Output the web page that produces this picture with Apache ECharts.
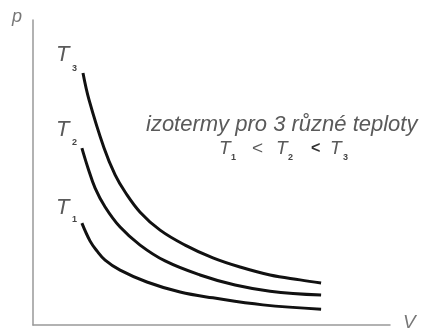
<!DOCTYPE html>
<html>
<head>
<meta charset="utf-8">
<title>izotermy</title>
<script src="https://cdn.jsdelivr.net/npm/echarts@6/dist/echarts.min.js"></script>
<style>
	html, body { margin: 0; padding: 0; background: #fff; }
	#chart { width: 433px; height: 332px; }
</style>
</head>
<body>
<div id="chart"></div>
<script>
// isotherms as [V, p]
const t3Points = [
	[14.0, 82.6], [15.7, 73.8], [19.9, 58.0], [23.0, 49.2], [25.8, 43.6], [30.0, 37.0], [35.6, 31.1],
	[42.6, 26.2], [50.4, 22.0], [58.0, 19.0], [66.4, 16.4], [74.8, 14.8], [80.7, 13.8]
]
const t2Points = [
	[13.7, 58.0], [15.4, 51.5], [17.4, 44.9], [20.2, 38.7], [24.4, 32.1], [30.0, 26.2], [37.0, 21.0],
	[46.8, 16.4], [56.6, 13.1], [66.4, 11.1], [80.7, 9.8]
]
const t1Points = [
	[13.7, 33.4], [16.0, 27.5], [17.9, 24.3], [20.2, 21.3], [24.4, 18.0], [31.9, 14.1], [41.2, 10.8],
	[50.4, 8.9], [64.4, 6.6], [80.7, 5.2]
]
const seriesNames = ['T3', 'T2', 'T1']
const curveLabels = ['3', '2', '1']

const chart = echarts.init(document.getElementById('chart'))

const textFont = 'Liberation Sans, Arial, sans-serif'
const gray = '#5a5a5a'

function txt(text, left, top, font, fill) {
	return {
		type: 'text', left: left, top: top,
		style: { text: text, font: font, fill: fill || gray }
	}
}

// T labels at the start of each curve
const labelTops = [44, 119, 197]
const subTops = [64, 138, 215]
const curveText = []
curveLabels.forEach((n, i) => {
	curveText.push(txt('T', 56, labelTops[i], 'italic 22px ' + textFont))
	curveText.push(txt(n, 72, subTops[i], 'bold 9px ' + textFont, '#444'))
})

// T1 < T2 < T3
const relText = [
	txt('T', 219, 139, 'italic 19px ' + textFont),
	txt('1', 231, 153, 'bold 9px ' + textFont, '#444'),
	txt('<', 252, 139, '19px ' + textFont),
	txt('T', 276, 139, 'italic 19px ' + textFont),
	txt('2', 288, 153, 'bold 9px ' + textFont, '#444'),
	txt('<', 311, 141, 'bold 16px ' + textFont, '#333'),
	txt('T', 330, 139, 'italic 19px ' + textFont),
	txt('3', 343, 153, 'bold 9px ' + textFont, '#444')
]

chart.setOption({
	animation: false,
	backgroundColor: '#fff',
	grid: {
		left: 33,
		right: 43,
		top: 20,
		bottom: 7
	},
	xAxis: {
		type: 'value',
		min: 0,
		max: 100,
		axisLine: { lineStyle: { color: '#999', width: 1.5 } },
		axisTick: { show: false },
		axisLabel: { show: false },
		splitLine: { show: false }
	},
	yAxis: {
		type: 'value',
		min: 0,
		max: 100,
		axisLine: { show: true, lineStyle: { color: '#999', width: 1.5 } },
		axisTick: { show: false },
		axisLabel: { show: false },
		splitLine: { show: false }
	},
	series: [t3Points, t2Points, t1Points].map((points, i) => ({
		name: seriesNames[i],
		type: 'line',
		data: points,
		smooth: 0.4,
		symbol: 'none',
		lineStyle: { color: '#111', width: 3 }
	})),
	graphic: [
		txt('p', 12, 8, 'italic 18px ' + textFont, '#777'),
		txt('V', 403, 313, 'italic 19px ' + textFont, '#777'),
		...curveText,
		txt('izotermy pro 3 různé teploty', 146, 114, 'italic 22px ' + textFont),
		...relText
	]
})
</script>
</body>
</html>
